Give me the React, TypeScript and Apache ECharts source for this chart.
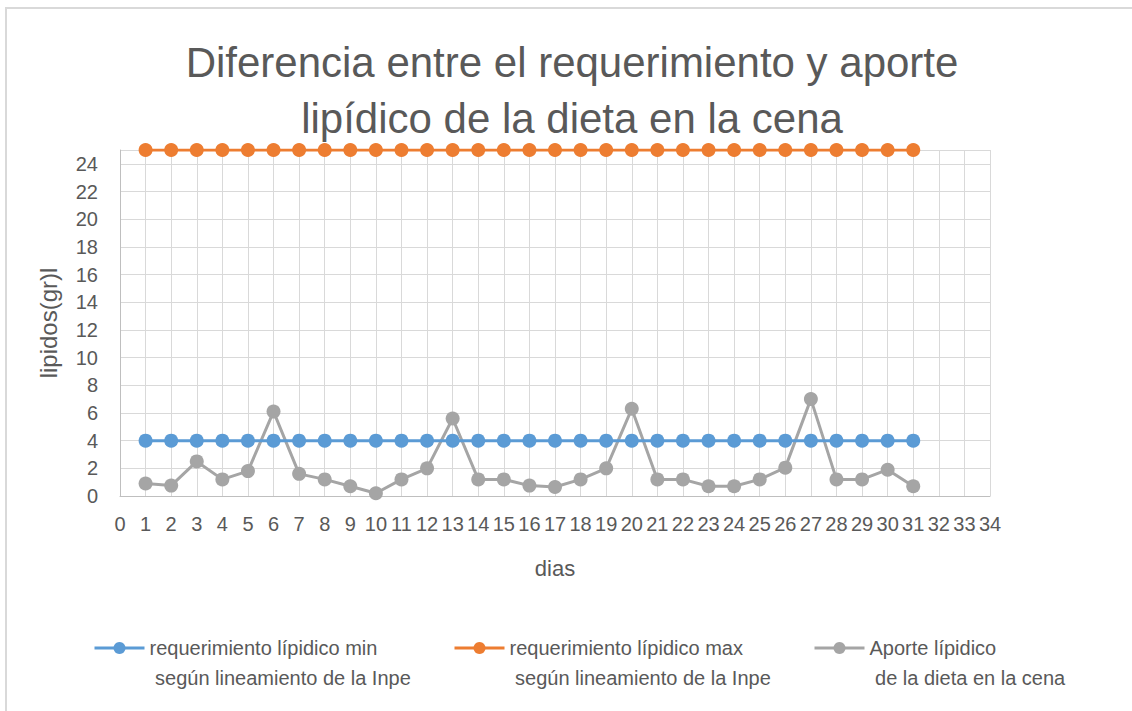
import React, { useEffect, useRef } from "react";
import * as echarts from "echarts";

const days = [1, 2, 3, 4, 5, 6, 7, 8, 9, 10, 11, 12, 13, 14, 15, 16, 17, 18, 19, 20, 21, 22, 23, 24, 25, 26, 27, 28, 29, 30, 31];
const reqMin = [4, 4, 4, 4, 4, 4, 4, 4, 4, 4, 4, 4, 4, 4, 4, 4, 4, 4, 4, 4, 4, 4, 4, 4, 4, 4, 4, 4, 4, 4, 4];
const reqMax = [25, 25, 25, 25, 25, 25, 25, 25, 25, 25, 25, 25, 25, 25, 25, 25, 25, 25, 25, 25, 25, 25, 25, 25, 25, 25, 25, 25, 25, 25, 25];
const aporte = [0.9, 0.75, 2.5, 1.2, 1.8, 6.1, 1.6, 1.2, 0.7, 0.2, 1.2, 2.0, 5.6, 1.2, 1.2, 0.75, 0.65, 1.2, 2.0, 6.3, 1.2, 1.2, 0.7, 0.7, 1.2, 2.05, 7.0, 1.2, 1.2, 1.9, 0.7];

const seriesNames = [
  "requerimiento lípidico min\n según lineamiento de la Inpe",
  "requerimiento lípidico max\n según lineamiento de la Inpe",
  "Aporte lípidico\n de la dieta en la cena",
];
const colors = ["#5B9BD5", "#ED7D31", "#A5A5A5"];

const FONT = "Liberation Sans";
const TEXT = "#595959";

export default function App() {
  const ref = useRef<HTMLDivElement>(null);
  useEffect(() => {
    if (!ref.current) return;
    const chart = echarts.init(ref.current, undefined, { renderer: "svg" });
    const toPairs = (arr: number[]) => days.map((d, i) => [d, arr[i]]);
    const values = [reqMin, reqMax, aporte];
    const legendLeft = [93, 453, 813];
    chart.setOption({
      animation: false,
      backgroundColor: "#ffffff",
      textStyle: { fontFamily: FONT },
      title: {
        text: "Diferencia entre el requerimiento y aporte\nlipídico de la dieta en la cena",
        left: 572,
        top: 34,
        padding: 0,
        textAlign: "center",
        textStyle: { fontFamily: FONT, fontSize: 42, fontWeight: "normal", color: TEXT, lineHeight: 56 },
      },
      graphic: [
        {
          type: "rect",
          shape: { x: 6, y: 8, width: 1200, height: 800 },
          style: { fill: "none", stroke: "#d9d9d9", lineWidth: 2 },
          silent: true,
        },
      ],
      legend: values.map((_, i) => ({
        data: [seriesNames[i]],
        left: legendLeft[i],
        top: 603,
        padding: 0,
        itemWidth: 50,
        itemHeight: 15,
        lineStyle: { width: 3 },
        formatter: (name: string) => " \n" + name,
        textStyle: {
          fontFamily: FONT,
          fontSize: 20,
          color: TEXT,
          lineHeight: 30,
        },
      })),
      grid: { left: 120, right: 142, top: 150, bottom: 215, containLabel: false },
      xAxis: {
        type: "value",
        min: 0,
        max: 34,
        interval: 1,
        name: "dias",
        nameLocation: "middle",
        nameGap: 61,
        nameTextStyle: { fontFamily: FONT, fontSize: 22, color: TEXT },
        axisLine: { show: true, lineStyle: { color: "#bfbfbf", width: 1 } },
        axisTick: { show: false },
        axisLabel: { fontFamily: FONT, fontSize: 20, color: TEXT, margin: 18 },
        splitLine: { show: true, lineStyle: { color: "#d9d9d9", width: 1 } },
      },
      yAxis: {
        type: "value",
        min: 0,
        max: 25,
        interval: 2,
        name: "lipidos(gr)l",
        nameLocation: "middle",
        nameGap: 60,
        nameTextStyle: { fontFamily: FONT, fontSize: 24, color: TEXT },
        axisLine: { show: true, lineStyle: { color: "#bfbfbf", width: 1 } },
        axisTick: { show: false },
        axisLabel: {
          fontFamily: FONT,
          fontSize: 20,
          color: TEXT,
          margin: 22,
          showMaxLabel: false,
        },
        splitLine: { show: true, lineStyle: { color: "#d9d9d9", width: 1 } },
      },
      series: values.map((arr, i) => ({
        name: seriesNames[i],
        type: "line",
        data: toPairs(arr),
        symbol: "circle",
        symbolSize: 14,
        lineStyle: { color: colors[i], width: 3 },
        itemStyle: { color: colors[i] },
        z: 2 + (i === 2 ? 0 : 1),
      })),
    });
    return () => chart.dispose();
  }, []);
  return (
    <div
      ref={ref}
      style={{ position: "fixed", left: 0, top: 0, width: 1132, height: 711 }}
    />
  );
}
